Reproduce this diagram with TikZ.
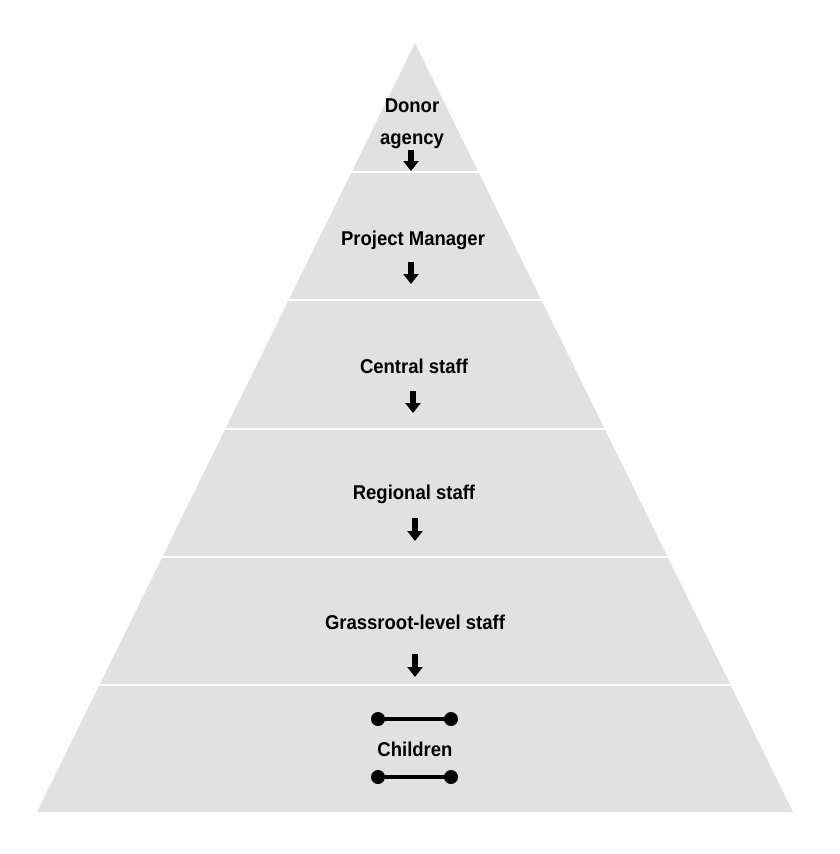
\documentclass[tikz,border=0pt]{standalone}
\usepackage{fontspec}
\setmainfont{Liberation Sans}
\usetikzlibrary{arrows.meta}
\definecolor{pyr}{HTML}{E1E1E1}
\tikzset{
  lbl/.style={font=\bfseries\fontsize{18.5}{30}\selectfont, inner sep=0pt, align=center, yscale=1.08},
  sep/.style={draw=white, line width=2.5pt},
  darr/.style={line width=6pt, -{Triangle[width=15pt,length=10pt]}}
}
\begin{document}
\begin{tikzpicture}[x=1pt,y=-1pt]
\useasboundingbox (0,0) rectangle (840,854);
% pyramid
\fill[pyr] (415,43) -- (793,812) -- (37,812) -- cycle;
\foreach \yy in {172,300,429,557,685} \draw[sep] (0,\yy) -- (840,\yy);
% labels
\node[lbl] (donor) at (412,124) {Donor\\agency};
\node[lbl] (pm) at (413,240) {Project Manager};
\node[lbl] (cs) at (414,366) {Central staff};
\node[lbl] (rs) at (414,494) {Regional staff};
\node[lbl] (gs) at (415,622) {Grassroot-level staff};
\node[lbl] (ch) at (415,749) {Children};
% arrows
\coordinate (a1s) at (411,150); \coordinate (a1e) at (411,171);
\coordinate (a2s) at (411,262); \coordinate (a2e) at (411,284);
\coordinate (a3s) at (413,391); \coordinate (a3e) at (413,413);
\coordinate (a4s) at (415,518); \coordinate (a4e) at (415,541);
\coordinate (a5s) at (415,654); \coordinate (a5e) at (415,677);
\draw[darr] (a1s) -- (a1e);
\draw[darr] (a2s) -- (a2e);
\draw[darr] (a3s) -- (a3e);
\draw[darr] (a4s) -- (a4e);
\draw[darr] (a5s) -- (a5e);
% children links
\coordinate (l1a) at (378,719); \coordinate (l1b) at (451,719);
\coordinate (l2a) at (378,777); \coordinate (l2b) at (451,777);
\draw[line width=3.5pt] (l1a) -- (l1b);
\draw[line width=3.5pt] (l2a) -- (l2b);
\fill (l1a) circle (7); \fill (l1b) circle (7);
\fill (l2a) circle (7); \fill (l2b) circle (7);
\end{tikzpicture}
\end{document}
